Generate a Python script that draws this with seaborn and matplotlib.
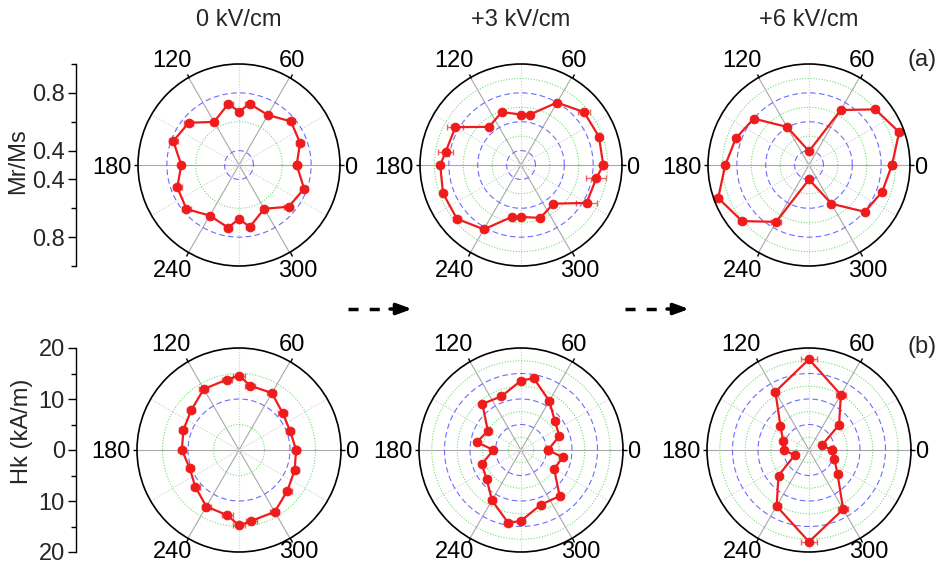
import numpy as np
import matplotlib
matplotlib.use('Agg')
import matplotlib.pyplot as plt
import seaborn as sns
from matplotlib.ticker import FixedLocator
from matplotlib.lines import Line2D

# === DATI ===
fields = ['0 kV/cm', '+3 kV/cm', '+6 kV/cm']

# angoli misurati (gradi) per ogni campo
ang_0 = [0, 20, 40, 60, 80, 90, 100, 120, 140, 160, 180, 200, 220, 240, 260, 270, 280, 300, 320, 340]
ang_3 = [0, 20, 40, 60, 80, 90, 110, 130, 150, 170, 180, 200, 220, 240, 260, 270, 290, 310, 330, 350]
ang_6 = [0, 20, 40, 60, 90, 120, 140, 160, 180, 200, 220, 240, 270, 300, 320, 340]

# (a) Mr/Ms
mr_0 = [0.70, 0.75, 0.77, 0.70, 0.73, 0.67, 0.73, 0.645, 0.755, 0.785,
        0.70, 0.755, 0.775, 0.705, 0.74, 0.675, 0.735, 0.65, 0.75, 0.78]
mr_3 = [0.87, 0.875, 0.87, 0.80, 0.655, 0.65, 0.69, 0.645, 0.825, 0.83,
        0.86, 0.875, 0.88, 0.815, 0.665, 0.66, 0.69, 0.65, 0.825, 0.83]
mr_6 = [0.875, 0.965, 0.90, 0.74, 0.395, 0.605, 0.80, 0.84,
        0.88, 0.97, 0.905, 0.755, 0.40, 0.61, 0.805, 0.84]
mr_0_err = [0.02, 0.03, 0.03, 0.02, 0.03, 0.02, 0.03, 0.02, 0.03, 0.03,
            0.02, 0.03, 0.03, 0.02, 0.03, 0.02, 0.03, 0.02, 0.03, 0.03]
mr_3_err = [0.01, 0.02, 0.04, 0.02, 0.01, 0.01, 0.02, 0.02, 0.055, 0.05,
            0.02, 0.02, 0.03, 0.03, 0.01, 0.01, 0.02, 0.02, 0.075, 0.07]
mr_6_err = [0.02, 0.03, 0.02, 0.02, 0.01, 0.02, 0.02, 0.02,
            0.02, 0.03, 0.03, 0.035, 0.01, 0.02, 0.02, 0.02]

# (b) Hk (kA/m)
hk_0 = [11.2, 10.7, 11.2, 12.9, 12.8, 14.6, 14.0, 13.8, 12.2, 11.6,
        11.2, 10.3, 11.2, 12.8, 13.0, 14.8, 14.1, 14.0, 12.4, 11.6]
hk_3 = [5.3, 8.0, 8.7, 11.1, 14.3, 13.6, 11.2, 11.8, 7.5, 8.8,
        5.4, 8.2, 8.8, 11.4, 14.5, 13.9, 11.4, 11.8, 7.5, 8.3]
hk_6 = [4.5, 2.7, 7.7, 12.5, 17.8, 13.2, 7.3, 5.4,
        4.9, 3.0, 7.8, 12.7, 18.0, 13.4, 7.3, 5.3]
hk_0_err = [0.8, 0.8, 0.9, 0.9, 1.0, 1.2, 1.0, 0.9, 0.8, 0.8,
            0.8, 0.8, 0.9, 0.9, 1.0, 1.2, 1.0, 0.9, 0.8, 0.8]
hk_3_err = [0.5, 0.6, 0.6, 0.7, 0.8, 0.8, 0.7, 0.6, 0.5, 0.5,
            0.5, 0.6, 0.6, 0.7, 0.8, 0.8, 0.7, 0.6, 0.5, 0.5]
hk_6_err = [0.5, 0.4, 0.6, 1.0, 1.6, 0.8, 0.5, 0.4,
            0.4, 0.4, 0.5, 0.8, 1.6, 1.0, 0.6, 0.5]

theta_labels = ['0', '60', '120', '180', '240', '300']

# === STILE ===
sns.set_theme(style='white')
plt.rcParams['font.family'] = ['Liberation Sans', 'DejaVu Sans']
FS = 17

W, H = 938, 564
fig = plt.figure(figsize=(W / 100, H / 100), dpi=100)


def rect(cx, cy, R):
    return [(cx - R) / W, (H - cy - R) / H, 2 * R / W, 2 * R / H]


def draw_panel(cx, cy, R, ang, val, err, rmin, rmax, rmajor, rminor, low_pad):
    # barre d'errore orizzontali (asse cartesiano sotto il polare)
    ax_e = fig.add_axes(rect(cx, cy, R))
    span = rmax - rmin
    ax_e.set_xlim(-span, span)
    ax_e.set_ylim(-span, span)
    ax_e.axis('off')
    th = np.deg2rad(ang)
    rr = np.asarray(val) - rmin
    ax_e.errorbar(rr * np.cos(th), rr * np.sin(th), xerr=err, fmt='none',
                  ecolor='#f06060', elinewidth=1.0, capsize=2.5, capthick=1.0)

    ax = fig.add_axes(rect(cx, cy, R), projection='polar')
    ax.patch.set_facecolor('none')
    ax.set_ylim(rmin, rmax)
    ax.set_xticks(np.deg2rad([0, 60, 120, 180, 240, 300]))
    ax.xaxis.set_minor_locator(FixedLocator(np.deg2rad([30, 90, 150, 210, 270, 330])))
    ax.set_yticks(rmajor)
    ax.yaxis.set_minor_locator(FixedLocator(rminor))
    ax.set_xticklabels([])
    ax.set_yticklabels([])
    ax.grid(False)
    ax.yaxis.grid(True, which='major', color='#6b6bff', ls=(0, (5, 3)), lw=0.8)
    ax.yaxis.grid(True, which='minor', color='#72dd72', ls=(0, (1, 1.5)), lw=0.8)
    ax.xaxis.grid(True, which='major', color='#a8a8a8', ls='-', lw=0.8)
    ax.xaxis.grid(True, which='minor', color='#cccccc', ls=(0, (1, 1.5)), lw=0.8)
    ax.tick_params(axis='x', which='both', bottom=False, top=False,
                   labelbottom=False, labeltop=False)
    ax.tick_params(axis='x', which='major', top=True, direction='out',
                   length=3, width=1, color='black')
    ax.spines['polar'].set_color('black')
    ax.spines['polar'].set_linewidth(1.2)

    th_c = np.deg2rad(np.append(ang, ang[0]))
    r_c = np.append(val, val[0])
    sns.lineplot(x=th_c, y=r_c, ax=ax, sort=False, estimator=None,
                 color='#ee1c1c', lw=1.6, marker='o', markersize=6.2,
                 markeredgecolor='#ee1c1c')
    ax.set_xlabel('')
    ax.set_ylabel('')

    label_pos = {0: (4, 0, 'left', 'center_baseline'),
                 60: (-11, 6, 'left', 'bottom'),
                 120: (3, 6, 'right', 'bottom'),
                 180: (-6, 0, 'right', 'center_baseline'),
                 240: (4, -low_pad, 'right', 'top'),
                 300: (-11, -low_pad, 'left', 'top')}
    for a, lab in zip([0, 60, 120, 180, 240, 300], theta_labels):
        dx, dy, ha, va = label_pos[a]
        ax.annotate(lab, xy=(np.deg2rad(a), rmax), xytext=(dx, dy),
                    textcoords='offset pixels', ha=ha, va=va, fontsize=FS,
                    color='black', annotation_clip=False)
    return ax


cxs = [239, 521, 809]
top = [(ang_0, mr_0, mr_0_err), (ang_3, mr_3, mr_3_err), (ang_6, mr_6, mr_6_err)]
bot = [(ang_0, hk_0, hk_0_err), (ang_3, hk_3, hk_3_err), (ang_6, hk_6, hk_6_err)]

for i, (cx, (a, v, e)) in enumerate(zip(cxs, top)):
    if i == 0:
        draw_panel(cx, 165, 101, a, v, e, 0.3, 1.0, [0.4, 0.8], [0.6], 8)
    else:
        draw_panel(cx, 165, 101, a, v, e, 0.3, 1.0, [0.4, 0.6, 0.8], [0.5, 0.7, 0.9], 8)
    fig.text(cx / W, 1 - 20 / H, fields[i], ha='center', va='center', fontsize=FS)

for i, (cx, (a, v, e)) in enumerate(zip(cxs, bot)):
    if i == 0:
        draw_panel(cx, 450, 102, a, v, e, 0, 20, [10], [5, 15], 3)
    else:
        draw_panel(cx, 450, 102, a, v, e, 0, 20, [5, 10, 15], [2.5, 7.5, 12.5, 17.5], 3)


# === SCALE RADIALI A SINISTRA ===
def scale_axis(cy, R, rmin, rmax, majors, minors, fmt):
    axs = fig.add_axes([76 / W, (H - cy - R) / H, 0.02, 2 * R / H])
    axs.patch.set_visible(False)
    for s in ['top', 'right', 'bottom']:
        axs.spines[s].set_visible(False)
    axs.spines['left'].set_color('black')
    axs.spines['left'].set_linewidth(1.0)
    span = rmax - rmin
    axs.set_ylim(-span, span)
    axs.set_xticks([])
    pos = [m - rmin for m in majors]
    ticks = sorted(set([-p for p in pos] + pos))
    axs.set_yticks(ticks)
    axs.set_yticklabels([fmt.format(abs(t) + rmin) for t in ticks])
    mpos = [m - rmin for m in minors]
    axs.yaxis.set_minor_locator(FixedLocator(sorted(set([-p for p in mpos] + mpos))))
    axs.tick_params(axis='y', which='major', left=True, direction='out',
                    length=6, width=1, labelsize=FS, pad=2, color='black')
    axs.tick_params(axis='y', which='minor', left=True, direction='out',
                    length=3.5, width=1, color='black')
    return axs


scale_axis(165, 101, 0.3, 1.0, [0.4, 0.8], [0.6, 1.0], '{:.1f}')
scale_axis(450, 102, 0, 20, [0, 10, 20], [5, 15], '{:.0f}')

fig.text(18 / W, 1 - 161 / H, 'Mr/Ms', rotation=90, ha='center', va='center', fontsize=FS)
fig.text(22 / W, 1 - 431 / H, 'Hk (kA/m)', rotation=90, ha='center', va='center', fontsize=FS)

fig.text(922 / W, 1 - 60 / H, '(a)', ha='center', va='center', fontsize=FS)
fig.text(922 / W, 1 - 347 / H, '(b)', ha='center', va='center', fontsize=FS)

# === FRECCE TRATTEGGIATE ===
for x0 in [348, 625]:
    y = 1 - 309 / H
    fig.add_artist(Line2D([x0 / W, (x0 + 42) / W], [y, y], transform=fig.transFigure,
                          color='black', lw=2.5, linestyle=(0, (2.9, 3.2))))
    fig.add_artist(matplotlib.patches.FancyArrowPatch(
        ((x0 + 42) / W, y), ((x0 + 64) / W, y), transform=fig.transFigure,
        arrowstyle='-|>,head_length=0.6,head_width=0.22', mutation_scale=15,
        color='black', lw=2.5, shrinkA=0, shrinkB=0))

fig.savefig('out.png', dpi=100)
